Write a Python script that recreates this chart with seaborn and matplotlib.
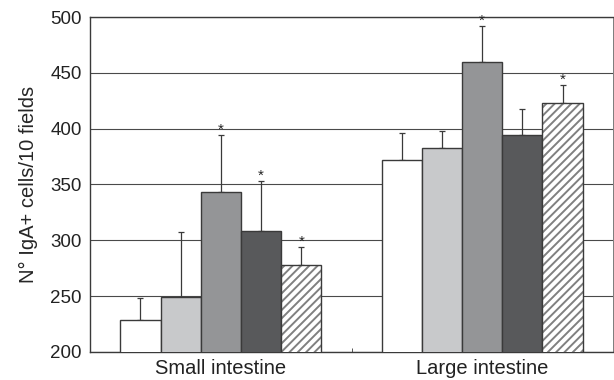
import matplotlib
matplotlib.use("Agg")
import matplotlib.pyplot as plt
from matplotlib.patches import Rectangle
import numpy as np
import pandas as pd
import seaborn as sns

# values
regions = ["Small intestine", "Large intestine"]
groups = ["G1", "G2", "G3", "G4", "G5"]
means = {
    "G1": [229, 372],
    "G2": [249, 383],
    "G3": [343, 460],
    "G4": [308, 394],
    "G5": [278, 423],
}
errors = {
    "G1": [19, 24],
    "G2": [58, 15],
    "G3": [51, 32],
    "G4": [45, 24],
    "G5": [16, 16],
}
# significance stars (per group, per region)
stars = {
    "G1": [False, False],
    "G2": [False, False],
    "G3": [True, True],
    "G4": [True, False],
    "G5": [True, True],
}
palette = ["#ffffff", "#c8c9cb", "#939598", "#58595b", "#ffffff"]
edge = "#3a3a3a"

rows = []
for g in groups:
    for r, v in zip(regions, means[g]):
        rows.append({"region": r, "group": g, "value": v})
df = pd.DataFrame(rows)

sns.set_style("ticks")
plt.rcParams["font.family"] = ["Liberation Sans", "DejaVu Sans"]
plt.rcParams["hatch.linewidth"] = 1.4

fig, ax = plt.subplots(figsize=(6.14, 3.8), dpi=100)
fig.subplots_adjust(left=0.147, right=0.998, top=0.955, bottom=0.074)

sns.barplot(data=df, x="region", y="value", hue="group", order=regions,
            hue_order=groups, palette=palette, width=0.77, errorbar=None,
            edgecolor=edge, linewidth=1.0, legend=False, zorder=3, ax=ax)

for gi, g in enumerate(groups):
    cont = ax.containers[gi]
    xs = [p.get_x() + p.get_width() / 2 for p in cont]
    ax.errorbar(xs, means[g], yerr=[np.zeros(2), errors[g]], fmt="none",
                ecolor=edge, elinewidth=0.9, capsize=2.5, capthick=0.9, zorder=2)
    for x, m, e, s in zip(xs, means[g], errors[g], stars[g]):
        if s:
            ax.annotate("*", (x, m + e), xytext=(0, -1), textcoords="offset points",
                        ha="center", va="bottom", fontsize=11, color="#222222",
                        zorder=5)

# hatched last group: grey stripes, dark outline
for p in ax.containers[len(groups) - 1]:
    p.set_hatch("////")
    p.set_edgecolor("#808080")
    p.set_linewidth(0)
    ax.add_patch(Rectangle(p.get_xy(), p.get_width(), p.get_height(), fill=False,
                           edgecolor=edge, linewidth=1.0, zorder=4))

ax.set_ylim(200, 500)
ax.set_xlim(-0.5, 1.5)
ax.set_yticks(range(200, 501, 50))
ax.yaxis.grid(True, color="#4a4a4a", linewidth=0.8, zorder=0)
ax.set_axisbelow(True)

ax.set_xlabel("")
ax.set_ylabel("N° IgA+ cells/10 fields", fontsize=14.5, labelpad=9)
ax.tick_params(axis="y", length=0, labelsize=13.5, pad=6, colors="#222222")
ax.tick_params(axis="x", length=0, labelsize=14.5, pad=5, colors="#222222")
ax.set_xticks([0.5], minor=True)
ax.tick_params(axis="x", which="minor", direction="in", length=3, color=edge)

for sp in ax.spines.values():
    sp.set_visible(True)
    sp.set_color(edge)
    sp.set_linewidth(1.0)
ax.spines["right"].set_color("#666666")
ax.spines["right"].set_linewidth(0.6)

fig.savefig("out.png", dpi=100)
